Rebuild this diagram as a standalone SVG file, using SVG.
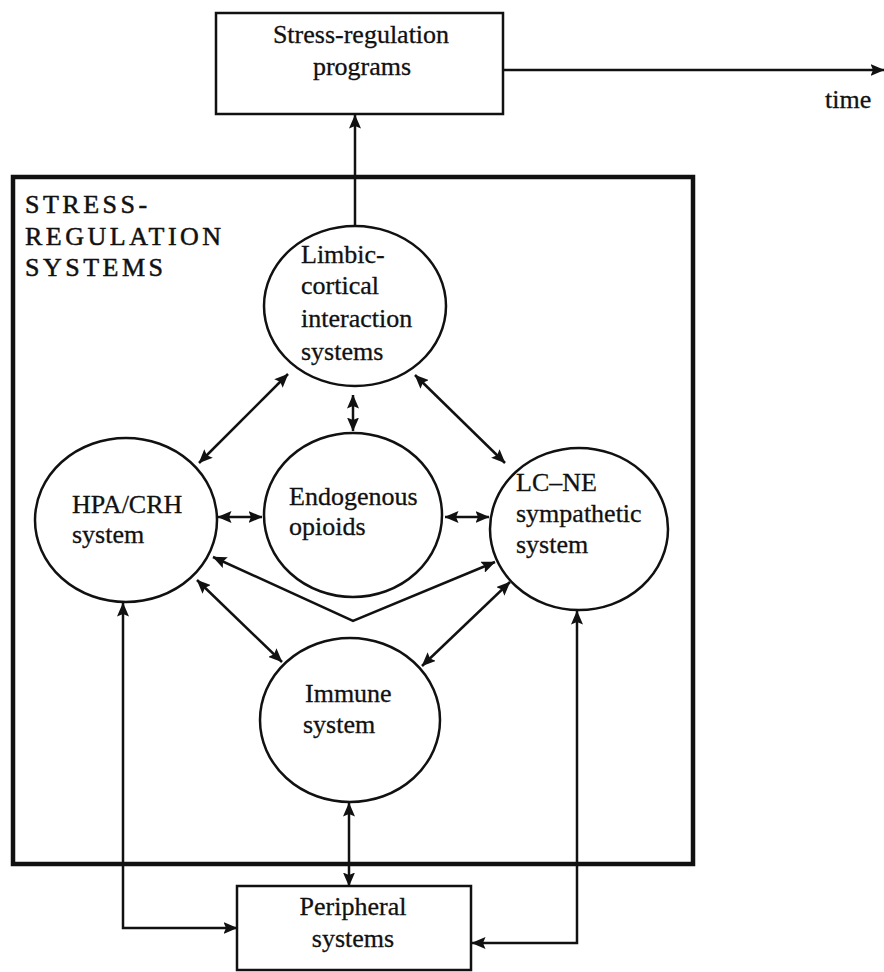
<svg xmlns="http://www.w3.org/2000/svg" width="884" height="972" viewBox="0 0 884 972">
<style>
.t{font-family:"Liberation Serif","Times New Roman",serif;font-size:26px;fill:#111;stroke:#111;stroke-width:0.3}
.h{font-family:"Liberation Serif","Times New Roman",serif;font-size:26px;letter-spacing:3.5px;fill:#111;stroke:#111;stroke-width:0.5}
.n{fill:#fff;stroke:#111;stroke-width:2.5}
.c{fill:none;stroke:#111;stroke-width:2.5}
</style>
<defs>
<marker id="ah" viewBox="0 0 14 12" refX="13.5" refY="6" markerWidth="14" markerHeight="12" markerUnits="userSpaceOnUse" orient="auto-start-reverse">
<path d="M0,0 L14,6 L0,12 L2.5,6 z" fill="#111"/>
</marker>
</defs>
<rect width="884" height="972" fill="#fff"/>

<g id="frame">
<rect x="13" y="177" width="680" height="687" fill="none" stroke="#111" stroke-width="4.5"/>
<text class="h" x="25" y="213">STRESS-</text>
<text class="h" x="25" y="245">REGULATION</text>
<text class="h" x="25" y="276">SYSTEMS</text>
</g>

<g id="connectors">
<line class="c" x1="355" y1="226" x2="355" y2="115" marker-end="url(#ah)"/>
<line class="c" x1="503" y1="70" x2="884" y2="70" marker-end="url(#ah)"/>
<line class="c" x1="288" y1="374" x2="199" y2="463" marker-start="url(#ah)" marker-end="url(#ah)"/>
<line class="c" x1="415" y1="375" x2="505" y2="463" marker-start="url(#ah)" marker-end="url(#ah)"/>
<line class="c" x1="353" y1="395" x2="353" y2="431" marker-start="url(#ah)" marker-end="url(#ah)"/>
<line class="c" x1="218" y1="517" x2="262" y2="517" marker-start="url(#ah)" marker-end="url(#ah)"/>
<line class="c" x1="445" y1="517" x2="489" y2="517" marker-start="url(#ah)" marker-end="url(#ah)"/>
<polyline class="c" points="213,557 353,621 495,562" marker-start="url(#ah)" marker-end="url(#ah)"/>
<line class="c" x1="197" y1="580" x2="282" y2="662" marker-start="url(#ah)" marker-end="url(#ah)"/>
<line class="c" x1="510" y1="582" x2="422" y2="666" marker-start="url(#ah)" marker-end="url(#ah)"/>
<line class="c" x1="349" y1="803" x2="349" y2="886" marker-start="url(#ah)" marker-end="url(#ah)"/>
<polyline class="c" points="123,603 123,928 237,928" marker-start="url(#ah)" marker-end="url(#ah)"/>
<polyline class="c" points="577,611 577,943 472,943" marker-start="url(#ah)" marker-end="url(#ah)"/>
</g>

<g id="programs">
<rect class="n" x="216" y="13" width="287" height="101" stroke-width="2.2"/>
<text class="t" x="361" y="43" text-anchor="middle">Stress-regulation</text>
<text class="t" x="362" y="75" text-anchor="middle">programs</text>
</g>
<g id="time-label">
<text class="t" x="825" y="108">time</text>
</g>

<g id="limbic">
<ellipse class="n" cx="355" cy="306" rx="91" ry="80"/>
<text class="t" x="301" y="263">Limbic-</text>
<text class="t" x="301" y="294">cortical</text>
<text class="t" x="301" y="327">interaction</text>
<text class="t" x="301" y="360">systems</text>
</g>

<g id="endogenous">
<ellipse class="n" cx="353" cy="515" rx="89" ry="82"/>
<text class="t" x="289" y="505">Endogenous</text>
<text class="t" x="289" y="535">opioids</text>
</g>

<g id="hpa">
<ellipse class="n" cx="126" cy="520" rx="91" ry="82"/>
<text class="t" x="72" y="513">HPA/CRH</text>
<text class="t" x="72" y="543">system</text>
</g>

<g id="lcne">
<ellipse class="n" cx="579" cy="529" rx="89" ry="81"/>
<text class="t" x="516" y="491">LC–NE</text>
<text class="t" x="516" y="522">sympathetic</text>
<text class="t" x="516" y="553">system</text>
</g>

<g id="immune">
<ellipse class="n" cx="350" cy="720" rx="90" ry="82"/>
<text class="t" x="305" y="702">Immune</text>
<text class="t" x="303" y="733">system</text>
</g>

<g id="peripheral">
<rect class="n" x="237" y="886" width="234" height="84" stroke-width="2.2"/>
<text class="t" x="353" y="915" text-anchor="middle">Peripheral</text>
<text class="t" x="353" y="947" text-anchor="middle">systems</text>
</g>
</svg>
